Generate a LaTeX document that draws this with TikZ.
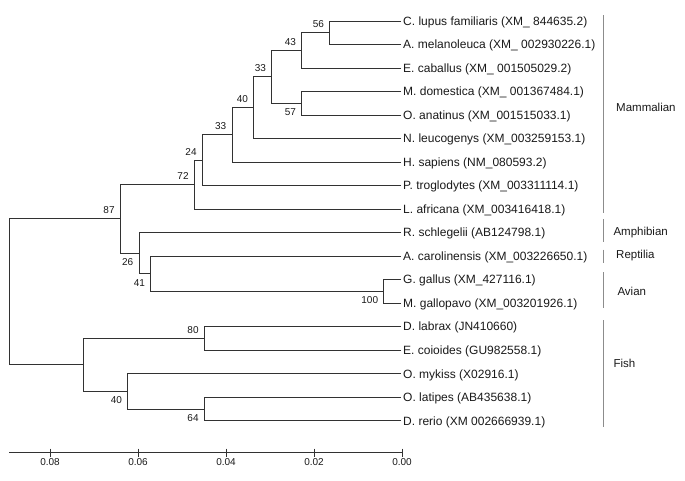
\documentclass[tikz,border=0pt]{standalone}
\usepackage{fontspec}
\setmainfont{Liberation Sans}
\definecolor{treecol}{RGB}{50,50,50}
\definecolor{barcol}{RGB}{140,140,140}
\definecolor{txtcol}{RGB}{25,25,25}
\begin{document}
\begin{tikzpicture}[x=1pt,y=-1pt,
  br/.style={draw=treecol, line width=0.9pt},
  leaf/.style={anchor=base west, inner sep=0pt, font=\fontsize{12}{14}\selectfont, text=txtcol},
  bs/.style={anchor=base east, inner sep=0pt, font=\fontsize{10}{12}\selectfont, text=txtcol},
  clade/.style={anchor=west, inner sep=0pt, font=\fontsize{11.5}{13}\selectfont, text=txtcol},
  tickl/.style={anchor=north, inner sep=0pt, font=\fontsize{10}{12}\selectfont, text=txtcol},
  bar/.style={draw=barcol, line width=1.2pt}]
\useasboundingbox (0,0) rectangle (685,480);
% leaf tips
\coordinate (L1) at (401,21.0);
\coordinate (L2) at (401,44.5);
\coordinate (L3) at (401,68.0);
\coordinate (L4) at (401,91.5);
\coordinate (L5) at (401,115.0);
\coordinate (L6) at (401,138.6);
\coordinate (L7) at (401,162.1);
\coordinate (L8) at (401,185.6);
\coordinate (L9) at (401,209.1);
\coordinate (L10) at (401,232.6);
\coordinate (L11) at (401,256.1);
\coordinate (L12) at (401,279.6);
\coordinate (L13) at (401,303.1);
\coordinate (L14) at (401,326.6);
\coordinate (L15) at (401,350.1);
\coordinate (L16) at (401,373.7);
\coordinate (L17) at (401,397.2);
\coordinate (L18) at (401,420.7);
% internal nodes
\coordinate (n56) at (329.7,32.75);
\coordinate (n43) at (301.7,50.4);
\coordinate (n57) at (301.7,103.25);
\coordinate (n33a) at (271.7,76.8);
\coordinate (n40) at (253.7,107.7);
\coordinate (n33b) at (232.0,134.9);
\coordinate (n24) at (202.3,160.25);
\coordinate (n72) at (194.3,184.7);
\coordinate (nav) at (383.3,291.35);
\coordinate (n41) at (150.7,273.7);
\coordinate (n26) at (139.0,253.15);
\coordinate (n87) at (120.3,218.9);
\coordinate (n80) at (204.3,338.35);
\coordinate (n64) at (204.3,408.95);
\coordinate (n40f) at (127.7,391.3);
\coordinate (nfish) at (83.3,364.8);
\coordinate (root) at (9.3,291.85);
% branches
\draw[br] (L1) -| (n56); \draw[br] (L2) -| (n56);
\draw[br] (n56) -| (n43); \draw[br] (L3) -| (n43);
\draw[br] (L4) -| (n57); \draw[br] (L5) -| (n57);
\draw[br] (n43) -| (n33a); \draw[br] (n57) -| (n33a);
\draw[br] (n33a) -| (n40); \draw[br] (L6) -| (n40);
\draw[br] (n40) -| (n33b); \draw[br] (L7) -| (n33b);
\draw[br] (n33b) -| (n24); \draw[br] (L8) -| (n24);
\draw[br] (n24) -| (n72); \draw[br] (L9) -| (n72);
\draw[br] (L12) -| (nav); \draw[br] (L13) -| (nav);
\draw[br] (L11) -| (n41); \draw[br] (nav) -| (n41);
\draw[br] (L10) -| (n26); \draw[br] (n41) -| (n26);
\draw[br] (n72) -| (n87); \draw[br] (n26) -| (n87);
\draw[br] (L14) -| (n80); \draw[br] (L15) -| (n80);
\draw[br] (L17) -| (n64); \draw[br] (L18) -| (n64);
\draw[br] (L16) -| (n40f); \draw[br] (n64) -| (n40f);
\draw[br] (n80) -| (nfish); \draw[br] (n40f) -| (nfish);
\draw[br] (n87) -| (root); \draw[br] (nfish) -| (root);
% leaf labels
\node[leaf] (T1) at ([shift={(2,4.3)}]L1) {C. lupus familiaris (XM\_ 844635.2)};
\node[leaf] (T2) at ([shift={(2,4.3)}]L2) {A. melanoleuca (XM\_ 002930226.1)};
\node[leaf] (T3) at ([shift={(2,4.3)}]L3) {E. caballus (XM\_ 001505029.2)};
\node[leaf] (T4) at ([shift={(2,4.3)}]L4) {M. domestica (XM\_ 001367484.1)};
\node[leaf] (T5) at ([shift={(2,4.3)}]L5) {O. anatinus (XM\_001515033.1)};
\node[leaf] (T6) at ([shift={(2,4.3)}]L6) {N. leucogenys (XM\_003259153.1)};
\node[leaf] (T7) at ([shift={(2,4.3)}]L7) {H. sapiens (NM\_080593.2)};
\node[leaf] (T8) at ([shift={(2,4.3)}]L8) {P. troglodytes (XM\_003311114.1)};
\node[leaf] (T9) at ([shift={(2,4.3)}]L9) {L. africana (XM\_003416418.1)};
\node[leaf] (T10) at ([shift={(2,4.3)}]L10) {R. schlegelii (AB124798.1)};
\node[leaf] (T11) at ([shift={(2,4.3)}]L11) {A. carolinensis (XM\_003226650.1)};
\node[leaf] (T12) at ([shift={(2,4.3)}]L12) {G. gallus (XM\_427116.1)};
\node[leaf] (T13) at ([shift={(2,4.3)}]L13) {M. gallopavo (XM\_003201926.1)};
\node[leaf] (T14) at ([shift={(2,4.3)}]L14) {D. labrax (JN410660)};
\node[leaf] (T15) at ([shift={(2,4.3)}]L15) {E. coioides (GU982558.1)};
\node[leaf] (T16) at ([shift={(2,4.3)}]L16) {O. mykiss (X02916.1)};
\node[leaf] (T17) at ([shift={(2,4.3)}]L17) {O. latipes (AB435638.1)};
\node[leaf] (T18) at ([shift={(2,4.3)}]L18) {D. rerio (XM 002666939.1)};
% bootstrap values
\node[bs] (b56) at ([shift={(-5.5,-5)}]n56) {56};
\node[bs] (b43) at ([shift={(-5.5,-5)}]n43) {43};
\node[bs] (b33a) at ([shift={(-5.5,-5)}]n33a) {33};
\node[bs] (b57) at ([shift={(-5.5,12.3)}]n57) {57};
\node[bs] (b40) at ([shift={(-5.5,-5)}]n40) {40};
\node[bs] (b33b) at ([shift={(-5.5,-5)}]n33b) {33};
\node[bs] (b24) at ([shift={(-5.5,-5)}]n24) {24};
\node[bs] (b72) at ([shift={(-5.5,-5)}]n72) {72};
\node[bs] (b87) at ([shift={(-5.5,-5)}]n87) {87};
\node[bs] (b26) at ([shift={(-5.5,12.3)}]n26) {26};
\node[bs] (b41) at ([shift={(-5.5,12.3)}]n41) {41};
\node[bs] (b100) at ([shift={(-5,12.3)}]nav) {100};
\node[bs] (b80) at ([shift={(-5.5,-5)}]n80) {80};
\node[bs] (b40f) at ([shift={(-5.5,12.3)}]n40f) {40};
\node[bs] (b64) at ([shift={(-5.5,12.3)}]n64) {64};
% clade bars and labels
\draw[bar] (603.5,15) -- (603.5,213.3);
\draw[bar] (603.5,219.3) -- (603.5,241.7);
\draw[bar] (603.5,249.5) -- (603.5,263);
\draw[bar] (603.5,272) -- (603.5,308.3);
\draw[bar] (603.5,320) -- (603.5,427.3);
\node[clade] (cm) at (616,107) {Mammalian};
\node[clade] (ca) at (613.3,232.5) {Amphibian};
\node[clade] (cr) at (616,256) {Reptilia};
\node[clade] (cv) at (617.3,291) {Avian};
\node[clade] (cf) at (613.3,363.3) {Fish};
% scale axis
\coordinate (ax0) at (9.3,452.5);
\coordinate (ax1) at (402,452.5);
\draw[br] (ax0) -- (ax1);
\foreach \xx/\lab/\nm in {50/0.08/k1,138/0.06/k2,226/0.04/k3,314/0.02/k4,402/0.00/k5}{
  \draw[br] (\xx,448.5) -- (\xx,456.5);
  \node[tickl] (\nm) at (\xx,458.5) {\lab};
}
\end{tikzpicture}
\end{document}
